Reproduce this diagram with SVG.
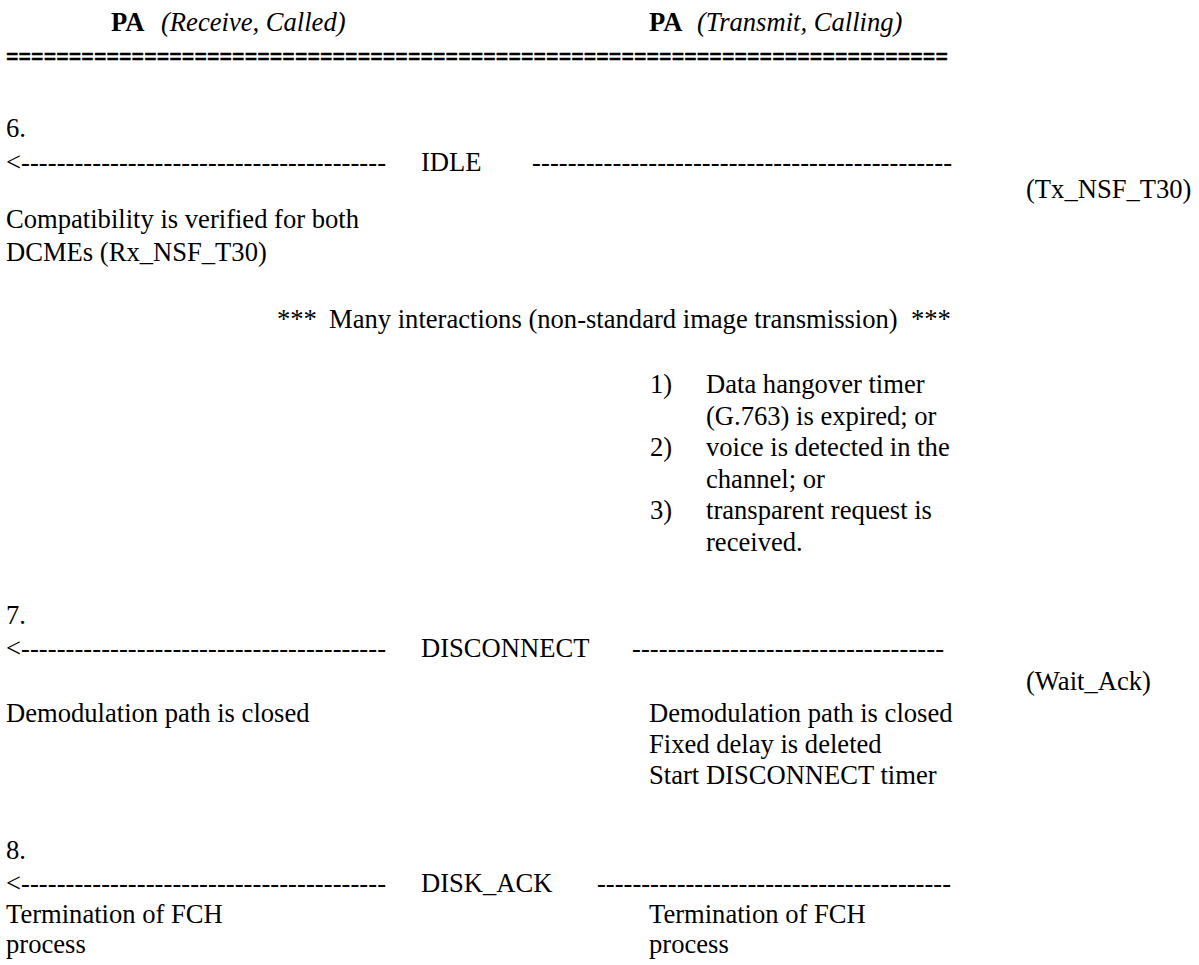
<svg xmlns="http://www.w3.org/2000/svg" width="1199" height="965" viewBox="0 0 1199 965">
  <style>
    text { font-family: "Liberation Serif", "Times New Roman", serif; font-size: 26.6px; fill: #000; }
    .b { font-weight: bold; }
    .i { font-style: italic; }
    .rule { font-weight: bold; stroke: #000; stroke-width: 0.6px; }
  </style>
  <rect width="1199" height="965" fill="#fff"/>

  <!-- column headings -->
  <g id="header">
    <text x="111" y="31" class="b">PA</text>
    <text x="161" y="31" class="i">(Receive, Called)</text>
    <text x="649" y="31" class="b">PA</text>
    <text x="697" y="31" class="i">(Transmit, Calling)</text>
    <text x="6" y="66" class="rule" textLength="942" lengthAdjust="spacingAndGlyphs">===========================================================================</text>
  </g>

  <!-- message arrows drawn as dashed text rules -->
  <g id="connectors">
    <text x="6" y="171" textLength="380" lengthAdjust="spacing">&lt;-----------------------------------------</text>
    <text x="532" y="171" textLength="420" lengthAdjust="spacing">-----------------------------------------------</text>
    <text x="6" y="657" textLength="380" lengthAdjust="spacing">&lt;-----------------------------------------</text>
    <text x="632" y="657" textLength="312" lengthAdjust="spacing">-----------------------------------</text>
    <text x="6" y="892" textLength="380" lengthAdjust="spacing">&lt;-----------------------------------------</text>
    <text x="597" y="892" textLength="354" lengthAdjust="spacing">----------------------------------------</text>
  </g>

  <!-- step 6: IDLE -->
  <g id="step6">
    <text x="6" y="137">6.</text>
    <text x="421" y="171">IDLE</text>
    <text x="1026" y="198">(Tx_NSF_T30)</text>
    <text x="6" y="228">Compatibility is verified for both</text>
    <text x="6" y="261">DCMEs (Rx_NSF_T30)</text>
  </g>

  <g id="interactions">
    <text x="277" y="328">***</text>
    <text x="329" y="328">Many interactions (non-standard image transmission)</text>
    <text x="911" y="328">***</text>
  </g>

  <g id="conditions">
    <text x="650" y="393">1)</text>
    <text x="706" y="393">Data hangover timer</text>
    <text x="706" y="425">(G.763) is expired; or</text>
    <text x="650" y="456">2)</text>
    <text x="706" y="456">voice is detected in the</text>
    <text x="706" y="488">channel; or</text>
    <text x="650" y="519">3)</text>
    <text x="706" y="519">transparent request is</text>
    <text x="706" y="551">received.</text>
  </g>

  <!-- step 7: DISCONNECT -->
  <g id="step7">
    <text x="6" y="624">7.</text>
    <text x="421" y="657">DISCONNECT</text>
    <text x="1026" y="690">(Wait_Ack)</text>
    <text x="6" y="722">Demodulation path is closed</text>
    <text x="649" y="722">Demodulation path is closed</text>
    <text x="649" y="753">Fixed delay is deleted</text>
    <text x="649" y="784">Start DISCONNECT timer</text>
  </g>

  <!-- step 8: DISK_ACK -->
  <g id="step8">
    <text x="6" y="859">8.</text>
    <text x="421" y="892">DISK_ACK</text>
    <text x="6" y="923">Termination of FCH</text>
    <text x="6" y="953">process</text>
    <text x="649" y="923">Termination of FCH</text>
    <text x="649" y="953">process</text>
  </g>
</svg>
